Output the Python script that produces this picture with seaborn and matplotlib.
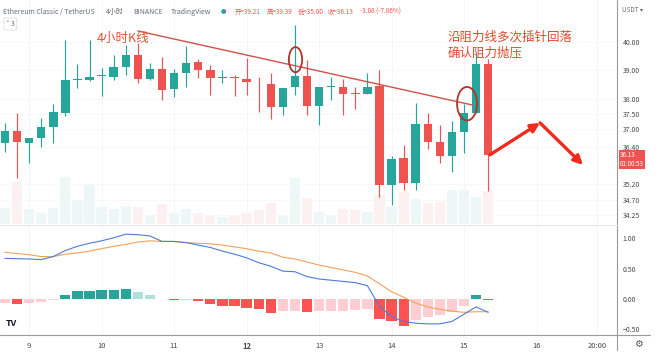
import matplotlib
matplotlib.use("Agg")
import matplotlib.pyplot as plt
import numpy as np
import seaborn as sns
from matplotlib.patches import Ellipse
from matplotlib.lines import Line2D
from matplotlib.ticker import FixedLocator, FixedFormatter, NullLocator

# =========================
# DATA  (ETC/USDT, 4h candles)
# =========================
opens = [36.54, 36.93, 36.54, 36.70, 37.06, 37.53, 38.66, 38.66, 38.79, 38.76,
         39.11, 39.54, 38.69, 39.04, 38.35, 38.90, 39.29, 39.01, 38.72, 38.74,
         38.69, 38.56, 38.52, 37.73, 38.42, 38.80, 37.77, 38.41, 38.42, 38.19,
         38.18, 38.45, 35.18, 36.05, 35.25, 37.16, 36.57, 36.11, 36.90, 37.53, 39.21]
highs = [37.20, 37.53, 36.70, 37.36, 37.84, 40.07, 39.22, 40.07, 39.08, 39.54,
         39.89, 39.96, 39.25, 39.47, 39.04, 39.86, 39.39, 39.18, 39.01, 38.83,
         39.43, 38.76, 38.90, 38.38, 40.61, 39.36, 38.42, 38.76, 38.69, 38.42,
         38.90, 39.01, 36.11, 36.47, 37.87, 37.53, 37.13, 37.26, 37.84, 39.61, 39.39]
lows = [36.24, 35.41, 35.89, 36.40, 36.54, 37.43, 38.38, 38.62, 38.11, 38.66,
        38.83, 38.55, 38.66, 37.97, 38.08, 38.42, 38.73, 38.14, 38.55, 38.11,
        38.14, 37.56, 37.33, 37.46, 38.14, 37.46, 37.13, 37.97, 37.46, 37.67,
        38.18, 34.81, 34.56, 35.03, 35.03, 36.34, 35.89, 35.60, 36.21, 37.53, 35.00]
closes = [36.93, 36.57, 36.70, 37.06, 37.56, 38.66, 38.67, 38.76, 38.80, 39.11,
          39.54, 38.69, 39.04, 38.31, 38.90, 39.25, 39.01, 38.73, 38.74, 38.72,
          38.59, 38.54, 37.73, 38.38, 38.80, 37.77, 38.42, 38.43, 38.18, 38.17,
          38.42, 35.18, 36.01, 35.25, 37.16, 36.57, 36.11, 36.90, 37.53, 39.21, 36.13]
volumes_k = [16, 42, 15, 11, 16, 47, 24, 39, 17, 15,
             18, 17, 9, 20, 11, 15, 11, 9, 7, 9,
             11, 14, 21, 9, 46, 26, 12, 9, 15, 14,
             12, 29, 17, 32, 25, 21, 22, 34, 34, 27, 33]

macd = [0.67, 0.665, 0.66, 0.65, 0.70, 0.80, 0.87, 0.92, 0.96, 1.01,
        1.07, 1.06, 1.04, 0.95, 0.95, 0.93, 0.89, 0.85, 0.79, 0.74,
        0.68, 0.60, 0.54, 0.46, 0.45, 0.37, 0.33, 0.31, 0.29, 0.27,
        0.22, -0.12, -0.29, -0.37, -0.40, -0.41, -0.41, -0.37, -0.25, -0.13, -0.22]
signal = [0.77, 0.75, 0.73, 0.70, 0.70, 0.74, 0.76, 0.79, 0.83, 0.87,
          0.90, 0.94, 0.96, 0.95, 0.95, 0.93, 0.92, 0.91, 0.89, 0.86,
          0.83, 0.79, 0.76, 0.69, 0.66, 0.61, 0.56, 0.52, 0.48, 0.44,
          0.38, 0.25, 0.12, 0.03, -0.07, -0.13, -0.17, -0.20, -0.22, -0.21, -0.21]
hist = [-0.07, -0.09, -0.066, -0.044, -0.01, 0.07, 0.127, 0.14, 0.143, 0.145,
        0.17, 0.11, 0.07, 0.005, -0.02, -0.01, -0.04, -0.077, -0.11, -0.12,
        -0.15, -0.165, -0.23, -0.20, -0.195, -0.22, -0.20, -0.19, -0.19, -0.18,
        -0.165, -0.325, -0.37, -0.44, -0.34, -0.29, -0.26, -0.22, -0.11, 0.07, -0.015]

day_labels = ["9", "10", "11", "12", "13", "14", "15", "16", "20:00"]
day_label_idx = [2, 8, 14, 20, 26, 32, 38, 44, 49]
price_ticks = [40.00, 39.00, 38.00, 37.50, 37.00, 36.40, 35.20, 34.70, 34.25]
macd_ticks = [1.0, 0.5, 0.0, -0.5]
last_close = 36.13
countdown = "01:00:53"

# drawings on the chart (candle index, price)
res_line_x = [11.0, 38.7]
res_line_y = [40.40, 37.80]
circles = [(24.05, 39.375, 1.1, 0.89), (38.25, 37.85, 1.66, 1.14)]
arrow_pts = [(40.15, 36.15), (44.29, 37.20), (47.85, 35.82)]
note_left = "4小时K线"
note_right = "沿阻力线多次插针回落\n确认阻力抛压"

# =========================
# STYLE
# =========================
sns.set_theme(style="white")
plt.rcParams['font.family'] = ['Noto Sans CJK SC', 'DejaVu Sans']

UP, DOWN = "#26a69a", "#ef5350"
W, H = 660, 356

def box(x0, y0, x1, y1):
    return [x0 / W, 1 - y1 / H, (x1 - x0) / W, (y1 - y0) / H]

fig = plt.figure(figsize=(6.6, 3.56), dpi=100)
ax = fig.add_axes(box(0, 0, 617, 224), label="price")
axv = fig.add_axes(box(0, 0, 617, 224), sharex=ax, label="vol")
axm = fig.add_axes(box(0, 225, 617, 335), sharex=ax, label="macd")
ax.set_zorder(2)
axv.set_zorder(1)
ax.patch.set_visible(False)

idx = np.arange(len(opens))
o, h, l, c = map(np.array, (opens, highs, lows, closes))
col = np.where(c >= o, UP, DOWN)

# volume (very faint, behind candles)
vcol = np.where(c >= o, "#edf7f5", "#fdf0f0")
axv.bar(idx, volumes_k, width=0.85, color=vcol, linewidth=0)
axv.set_ylim(0, 224)
axv.axis("off")

# candles
ax.vlines(idx, l, h, colors=col, linewidth=0.85, zorder=3)
body = np.maximum(np.abs(c - o), 0.03)
ax.bar(idx, body, bottom=np.minimum(o, c), width=0.7, color=col, linewidth=0, zorder=4)

ax.set_yscale("log")
ax.set_xlim(-0.41, 50.66)
ax.set_ylim(33.97, 41.54)
ax.yaxis.tick_right()
ax.yaxis.set_major_locator(FixedLocator(price_ticks))
ax.yaxis.set_major_formatter(FixedFormatter([f"{t:.2f}" for t in price_ticks]))
ax.yaxis.set_minor_locator(NullLocator())
ax.tick_params(axis="y", length=0, pad=4, labelsize=5, labelcolor="#4a4a4a")
ax.tick_params(axis="x", bottom=False, labelbottom=False)
for s in ax.spines.values():
    s.set_visible(False)
for xi in day_label_idx:
    ax.axvline(xi, color="#f3f4f7", lw=0.6, zorder=0)
    axm.axvline(xi, color="#f3f4f7", lw=0.6, zorder=0)
for t in price_ticks:
    ax.axhline(t, color="#f5f6f8", lw=0.6, zorder=0)

# drawings
ax.plot(res_line_x, res_line_y, color="#cf5149", lw=1.0, zorder=5)
for cx, cy, ew, eh in circles:
    ax.add_patch(Ellipse((cx, cy), ew, eh, fill=False, ec="#b3322a", lw=1.3, zorder=6))
for p0, p1 in zip(arrow_pts[:-1], arrow_pts[1:]):
    ax.annotate("", xy=p1, xytext=p0,
                arrowprops=dict(arrowstyle="-|>", color="#ee2b1d", lw=2.4,
                                mutation_scale=13, shrinkA=0, shrinkB=0), zorder=7)
ax.text(7.6, 40.14, note_left, fontsize=9, color="#e2542e", ha="left", va="center", zorder=7)
ax.text(36.67, 40.43, note_right, fontsize=9, color="#e2482c", ha="left", va="top",
        linespacing=1.3, zorder=7)

# last price label
ax.annotate(f"{last_close:.2f}\n{countdown}", xy=(1, last_close), xycoords=("axes fraction", "data"),
            xytext=(2, -3), textcoords="offset points", ha="left", va="center",
            fontsize=4.5, color="white", linespacing=1.1, annotation_clip=False,
            bbox=dict(boxstyle="square,pad=0.2", fc=DOWN, ec="none"))

# MACD pane
hcol = []
for i, v in enumerate(hist):
    prev = hist[i - 1] if i > 0 else v
    if v >= 0:
        hcol.append("#26a69a" if v > prev else "#b2dfdb")
    else:
        hcol.append("#ff5252" if v < prev else "#ffcdd2")
axm.bar(idx, hist, width=0.85, color=hcol, linewidth=0, zorder=2)
sns.lineplot(x=idx, y=signal, ax=axm, color="#f5a05a", lw=0.8, zorder=3)
sns.lineplot(x=idx, y=macd, ax=axm, color="#4f7bd8", lw=0.8, zorder=4)
axm.set_ylim(-0.594, 1.221)
axm.yaxis.tick_right()
axm.set_yticks(macd_ticks)
axm.set_yticklabels([f"{t:.2f}".replace("-", "\u2212") for t in macd_ticks])
axm.tick_params(axis="y", length=0, pad=4, labelsize=5, labelcolor="#4a4a4a")
axm.set_xticks(day_label_idx)
axm.set_xticklabels(day_labels)
axm.tick_params(axis="x", length=0, pad=5, labelsize=5.5, labelcolor="#4a4a4a")
axm.get_xticklabels()[3].set_fontweight("bold")
axm.set_xlabel("")
axm.set_ylabel("")
for s in axm.spines.values():
    s.set_visible(False)

# pane borders
fig.add_artist(Line2D([617 / W, 617 / W], [1 - 350 / H, 1], color="#9a9a9a", lw=0.8))
fig.add_artist(Line2D([0, 650 / W], [1 - 335 / H, 1 - 335 / H], color="#9a9a9a", lw=0.8))
fig.add_artist(Line2D([0, 617 / W], [1 - 224.5 / H, 1 - 224.5 / H], color="#e6e8ee", lw=0.8))

# header
def ftxt(x, y, s, **kw):
    kw.setdefault("fontsize", 5)
    kw.setdefault("va", "center")
    fig.text(x / W, 1 - y / H, s, **kw)

ftxt(3, 12, "Ethereum Classic / TetherUS", color="#666a75")
ftxt(106, 12, "4小时", color="#666a75")
ftxt(133, 12, "BINANCE", color="#666a75")
ftxt(171, 12, "TradingView", color="#666a75")
ftxt(221, 12, "●", color=UP, fontsize=4)
ftxt(235, 12, f"开={opens[-1]:.2f}", color=DOWN, fontsize=4.6)
ftxt(267, 12, f"高={highs[-1]:.2f}", color=DOWN, fontsize=4.6)
ftxt(298, 12, f"低={lows[-1]:.2f}", color=DOWN, fontsize=4.6)
ftxt(328, 12, f"收={closes[-1]:.2f}", color=DOWN, fontsize=4.6)
chg = closes[-1] - opens[-1]
ftxt(360, 12, f"{chg:.2f} ({chg / opens[-1] * 100:.2f}%)", color=DOWN, fontsize=4.6)
ftxt(6, 24, "˅ 3", color="#666a75", fontsize=5,
     bbox=dict(boxstyle="round,pad=0.3", fc="white", ec="#d6d8de", lw=0.5))
ftxt(622, 10, "USDT ▾", color="#666a75", fontsize=4.5)
ftxt(6, 323, "TV", color="#131722", fontsize=6.5, fontweight="heavy")
ftxt(638, 344, "⚙", color="#555555", fontsize=7, ha="center")

fig.savefig("out.png", dpi=100)
